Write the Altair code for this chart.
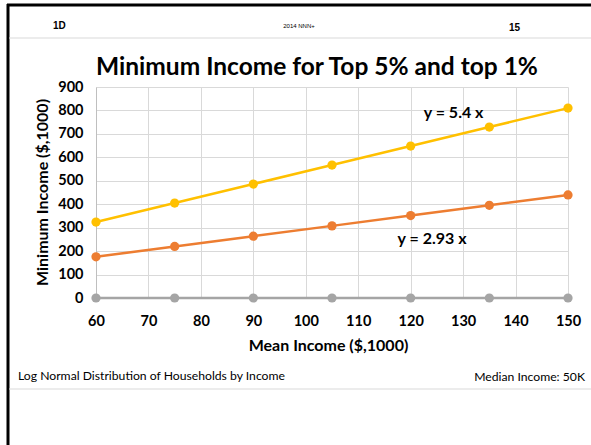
import altair as alt
import pandas as pd

mean_income = [60, 75, 90, 105, 120, 135, 150]
top5 = [324, 405, 486, 567, 648, 729, 810]
top1 = [175.8, 219.75, 263.7, 307.65, 351.6, 395.55, 439.5]
zero_line = [0, 0, 0, 0, 0, 0, 0]
series_names = ["Top 5%", "Top 1%", "Zero"]
series_colors = ["#FFC000", "#ED7D31", "#A5A5A5"]

rows = []
for name, vals in zip(series_names, [top5, top1, zero_line]):
    for x, y in zip(mean_income, vals):
        rows.append({"series": name, "x": x, "y": y})
df = pd.DataFrame(rows)

FONT = "Lato"
W, H = 472, 211

xs = alt.X("x:Q", scale=alt.Scale(domain=[60, 150], nice=False),
           axis=alt.Axis(values=list(range(60, 151, 10)), title="Mean Income ($,1000)",
                         grid=True, gridColor="#D9D9D9", domain=False, ticks=False,
                         labelPadding=16, labelFontSize=14.5, labelFontWeight="bold",
                         labelFont=FONT, labelColor="#000000", labelOverlap=False,
                         labelFlush=False,
                         titleFont=FONT, titleFontSize=16, titleFontWeight="bold",
                         titleColor="#000000", titleX=232, titleY=47,
                         titleBaseline="middle", titleAlign="center"))
ys = alt.Y("y:Q", scale=alt.Scale(domain=[0, 900], nice=False),
           axis=alt.Axis(values=list(range(0, 901, 100)), title="Minimum Income ($,1000)",
                         grid=True, gridColor="#D9D9D9", domain=True, domainColor="#BFBFBF",
                         ticks=False, labelPadding=13, labelFontSize=14.5,
                         labelFontWeight="bold", labelFont=FONT, labelColor="#000000",
                         labelOverlap=False, labelFlush=False, labelBound=False,
                         titleFont=FONT, titleFontSize=16, titleFontWeight="bold",
                         titleColor="#000000", titleX=-54, titleY=105, titleAngle=-90,
                         titleAlign="center", titleBaseline="middle"))
color = alt.Color("series:N", scale=alt.Scale(domain=series_names, range=series_colors),
                  legend=None)

lines = alt.Chart(df).mark_line(strokeWidth=2.5).encode(x=xs, y=ys, color=color, detail="series:N")
points = alt.Chart(df).mark_point(filled=True, size=85, opacity=1).encode(
    x=xs, y=ys, color=color)

ann_df = pd.DataFrame({"x": [122.5, 117.5], "y": [789, 250], "t": ["y = 5.4 x", "y = 2.93 x"]})
ann = alt.Chart(ann_df).mark_text(font=FONT, fontSize=16, fontWeight="bold", align="left",
                                  baseline="middle", color="#000000").encode(
    x=xs, y=ys, text="t:N")

def txt(s, x, y, size, weight="normal", align="left", font=FONT):
    return alt.Chart(pd.DataFrame({"t": [s]})).mark_text(
        font=font, fontSize=size, fontWeight=weight, align=align, baseline="middle",
        color="#000000").encode(x=alt.value(x), y=alt.value(y), text="t:N")

title = txt("Minimum Income for Top 5% and top 1%", 221, -19, 24.5, "bold", "center")
h1 = txt("1D", -43, -61, 10, "bold", "left", "Liberation Sans")
h2 = txt("2014 NNN+", 203, -61, 6, "normal", "center", "Liberation Sans")
h3 = txt("15", 413, -59, 10, "bold", "left", "Liberation Sans")
f1 = txt("Log Normal Distribution of Households by Income", -78, 289, 12.2, "normal", "left")
f2 = txt("Median Income: 50K", 489, 290, 12.2, "normal", "right")

def rule(x1, x2, y1, y2, color, w):
    return alt.Chart(pd.DataFrame({"a": [0]})).mark_rule(color=color, strokeWidth=w).encode(
        x=alt.value(x1), x2=alt.value(x2), y=alt.value(y1), y2=alt.value(y2))

frame_left = rule(-88, -88, -83, 358, "#000000", 3)
frame_top = rule(-89, 495, -82, -82, "#000000", 3)
gray_top = rule(-87, 495, -49, -49, "#D9D9D9", 1)
gray_bot = rule(-87, 495, 302, 302, "#D9D9D9", 1)

chart = alt.layer(lines, points, ann, title, h1, h2, h3, f1, f2,
                  frame_left, frame_top, gray_top, gray_bot).properties(
    width=W, height=H,
    padding={"left": 96, "top": 87, "right": 23, "bottom": 147},
    autosize=alt.AutoSizeParams(type="none"),
    background="#FFFFFF",
).configure_view(stroke=None)

chart.save("out.html", embed_options={"renderer": "svg", "actions": False})
